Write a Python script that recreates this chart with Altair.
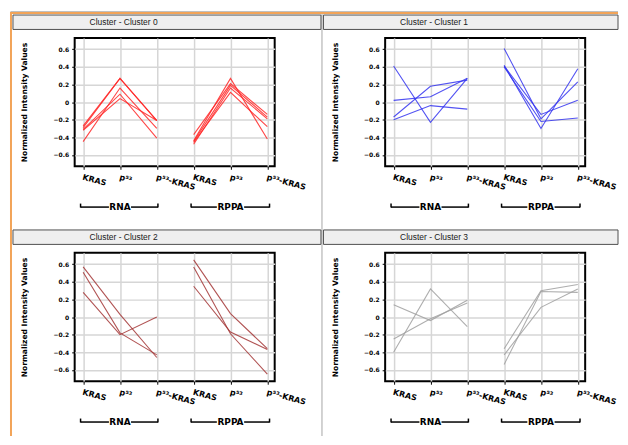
import json
import altair as alt
import pandas as pd

# ---------------- data ----------------
CATEGORIES = ["KRAS", "p⁵³", "p⁵³-KRAS"]
GROUPS = ["RNA", "RPPA"]
TITLES = ["Cluster - Cluster 0", "Cluster - Cluster 1",
          "Cluster - Cluster 2", "Cluster - Cluster 3"]
COLORS = ["#ff2626", "#3434f0", "#a33636", "#a0a0a0"]
Y_TICKS = [-0.6, -0.4, -0.2, 0.0, 0.2, 0.4, 0.6]

c0_rna = [[-0.27, 0.27, -0.21], [-0.29, 0.27, -0.21], [-0.45, 0.16, -0.30],
          [-0.31, 0.09, -0.41], [-0.32, 0.04, -0.21]]
c0_rppa = [[-0.37, 0.21, -0.14], [-0.44, 0.27, -0.42], [-0.45, 0.19, -0.17],
           [-0.48, 0.16, -0.19], [-0.46, 0.11, -0.28]]
c1_rna = [[0.41, -0.23, 0.27], [0.02, 0.06, 0.27], [-0.17, 0.18, 0.25],
          [-0.20, -0.04, -0.08]]
c1_rppa = [[0.61, -0.19, 0.23], [0.42, -0.30, 0.38], [0.41, -0.14, 0.02],
           [0.40, -0.22, -0.18]]
c2_rna = [[0.57, 0.03, -0.46], [0.51, -0.18, -0.43], [0.28, -0.20, 0.0]]
c2_rppa = [[0.65, 0.04, -0.36], [0.57, -0.19, -0.65], [0.35, -0.17, -0.37]]
c3_rna = [[0.14, -0.04, 0.19], [-0.40, 0.32, -0.11], [-0.25, -0.02, 0.16]]
c3_rppa = [[-0.36, 0.30, 0.37], [-0.43, 0.11, 0.32], [-0.54, 0.29, 0.28]]

CLUSTERS = [(c0_rna, c0_rppa), (c1_rna, c1_rppa), (c2_rna, c2_rppa), (c3_rna, c3_rppa)]

W, H = 201, 129
ONE = pd.DataFrame({"k": [0]})


def make_panel(idx, rna, rppa):
    rows = []
    for g, lines in enumerate((rna, rppa)):
        for j, vals in enumerate(lines):
            for k, v in enumerate(vals):
                rows.append({"pos": 3 * g + k, "value": v, "series": f"{g}-{j}"})
    df = pd.DataFrame(rows)

    xscale = alt.Scale(domain=[-0.23, 5.2], nice=False, zero=False)
    yscale = alt.Scale(domain=[-0.73, 0.73], nice=False, zero=False)
    labels = CATEGORIES * 2
    xaxis = alt.Axis(
        values=list(range(6)),
        labelExpr=f"{json.dumps(labels, ensure_ascii=False)}[datum.value]",
        grid=True, gridColor="#d6d6d6", gridWidth=1.5,
        domain=False, ticks=True, tickColor="black", tickSize=3, tickWidth=1,
        labelAngle=15, labelAlign="left", labelBaseline="top",
        labelFont="DejaVu Sans", labelFontWeight="bold", labelFontSize=8,
        labelColor="black", labelPadding=4, labelOverlap=False, labelFlush=False,
    )
    yaxis = alt.Axis(
        values=Y_TICKS,
        labelExpr="datum.value == 0 ? '0' : format(datum.value, '.1f')",
        grid=True, gridColor="#d6d6d6", gridWidth=1.5,
        domain=False, ticks=True, tickColor="black", tickSize=3, tickWidth=1,
        labelFont="DejaVu Sans", labelFontWeight="bold", labelFontSize=6,
        labelColor="black", labelPadding=3, labelOverlap=False, labelFlush=False,
        title="Normalized Intensity Values", titleFont="DejaVu Sans",
        titleFontWeight="bold", titleFontSize=7.6, titleColor="black",
        titleAngle=270, titleX=-50, titleY=H / 2, titleAlign="center",
        titleBaseline="middle",
    )

    layers = []
    right = idx % 2 == 1
    top = idx < 2

    if idx == 0:
        # window frame decorations
        layers.append(alt.Chart(ONE).mark_rule(color="#c4c4c4", strokeWidth=1.5).encode(
            x=alt.value(248.5), y=alt.value(-25), y2=alt.value(400)))
        layers.append(alt.Chart(ONE).mark_rule(color="#bdbdbd", strokeWidth=1).encode(
            x=alt.value(-64.5), x2=alt.value(546), y=alt.value(-26.5)))
        layers.append(alt.Chart(ONE).mark_rule(color="#f2a458", strokeWidth=2).encode(
            x=alt.value(-64), x2=alt.value(546), y=alt.value(-25)))
        layers.append(alt.Chart(ONE).mark_rule(color="#f2a458", strokeWidth=2).encode(
            x=alt.value(-64), y=alt.value(-26), y2=alt.value(400)))

    # title bar
    layers.append(alt.Chart(ONE).mark_rect(fill="#efefef", stroke="#505050", strokeWidth=1).encode(
        x=alt.value(-62), x2=alt.value(234 if right else 247.5),
        y=alt.value(-23), y2=alt.value(-8.5)))
    layers.append(alt.Chart(pd.DataFrame({"t": [TITLES[idx]]})).mark_text(
        font="Liberation Sans", fontSize=8.5, color="#202020", align="left", baseline="middle"
    ).encode(x=alt.value(15), y=alt.value(-15.5), text="t:N"))

    layers.append(alt.Chart(df).mark_line(color=COLORS[idx], strokeWidth=1.1, opacity=0.85).encode(
        x=alt.X("pos:Q", scale=xscale, axis=xaxis, title=None),
        y=alt.Y("value:Q", scale=yscale, axis=yaxis),
        detail="series:N"))

    # group brackets
    seg = pd.DataFrame({"a": [-0.07, 1.30, 2.93, 4.37], "b": [0.70, 2.03, 3.63, 5.06]})
    ends = pd.DataFrame({"e": [-0.07, 2.03, 2.93, 5.06]})
    glab = pd.DataFrame({"pos": [1, 4], "g": GROUPS})
    layers.append(alt.Chart(seg).mark_rule(color="black", strokeWidth=1.5).encode(
        x=alt.X("a:Q", scale=xscale, title=None), x2="b:Q", y=alt.value(170)))
    layers.append(alt.Chart(ends).mark_rule(color="black", strokeWidth=1.5).encode(
        x=alt.X("e:Q", scale=xscale, title=None), y=alt.value(166.5), y2=alt.value(170.5)))
    layers.append(alt.Chart(glab).mark_text(
        font="DejaVu Sans", fontWeight="bold", fontSize=9, color="black", baseline="middle"
    ).encode(x=alt.X("pos:Q", scale=xscale, title=None), y=alt.value(170), text="g:N"))

    return alt.layer(*layers).properties(width=W, height=H)


panels = [make_panel(i, r, p) for i, (r, p) in enumerate(CLUSTERS)]

chart = alt.concat(
    *panels, columns=2, spacing={"row": 87, "column": 111}, bounds="flush"
).properties(
    padding={"left": 1, "top": 1, "right": 0, "bottom": 0},
    background="white",
).configure_view(stroke="black", strokeWidth=2)

chart.save("out.html", embed_options={"renderer": "svg", "actions": False})
